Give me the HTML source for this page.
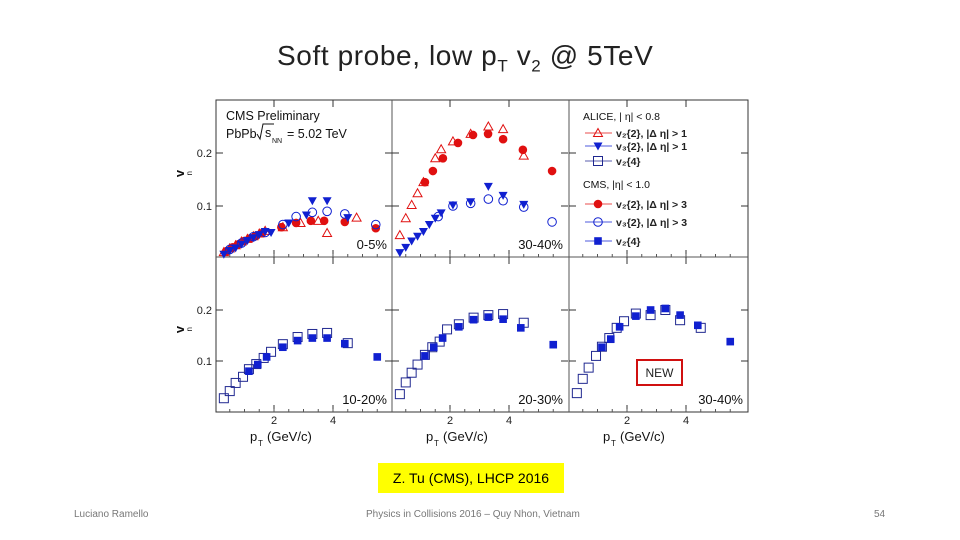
<!DOCTYPE html>
<html><head><meta charset="utf-8"><style>
body{margin:0;width:960px;height:540px;background:#fff;position:relative;overflow:hidden;font-family:"Liberation Sans",sans-serif}
.t{position:absolute;white-space:nowrap}
</style></head><body>
<div class="t" style="left:277px;top:40px;font-size:28px;letter-spacing:0.6px;color:#222">Soft probe, low p<sub style="font-size:17px">T</sub> v<sub style="font-size:17px">2</sub> @ 5TeV</div>
<svg id="chart" width="960" height="540" style="position:absolute;left:0;top:0" font-family="Liberation Sans, sans-serif"></svg>
<div class="t" style="left:378px;top:463px;width:186px;height:30px;background:#ffff00;font-size:14px;line-height:30px;text-align:center;color:#000">Z. Tu (CMS), LHCP 2016</div>
<div class="t" style="left:74px;top:509px;font-size:10px;color:#777">Luciano Ramello</div>
<div class="t" style="left:366px;top:509px;font-size:10px;color:#777">Physics in Collisions 2016 – Quy Nhon, Vietnam</div>
<div class="t" style="left:874px;top:509px;font-size:10px;color:#777">54</div>
<script>
// data arrays [pT, v]
const p1_aliceV2=[[0.3,0.013],[0.5,0.02],[0.7,0.026],[0.9,0.033],[1.1,0.038],[1.3,0.043],[1.5,0.048],[1.7,0.053],[2.3,0.060],[2.9,0.068],[3.5,0.072],[3.8,0.049],[4.8,0.078]];
const p1_aliceV3=[[0.3,0.009],[0.5,0.016],[0.7,0.021],[0.9,0.028],[1.1,0.035],[1.3,0.040],[1.5,0.046],[1.7,0.052],[1.9,0.050],[2.5,0.068],[3.1,0.083],[3.3,0.110],[3.8,0.110],[4.5,0.078]];
const p1_cmsV2=[[0.4,0.015],[0.6,0.022],[0.8,0.028],[1.0,0.034],[1.2,0.039],[1.4,0.044],[1.6,0.049],[2.25,0.060],[2.75,0.068],[3.25,0.072],[3.7,0.072],[4.4,0.070],[5.45,0.058]];
const p1_cmsV3=[[0.5,0.018],[0.9,0.03],[1.3,0.042],[1.7,0.05],[2.3,0.065],[2.75,0.08],[3.3,0.088],[3.8,0.09],[4.4,0.085],[5.45,0.065]];
const p2_aliceV2=[[0.3,0.045],[0.5,0.077],[0.7,0.102],[0.9,0.124],[1.1,0.145],[1.5,0.19],[1.7,0.207],[2.1,0.222],[2.7,0.236],[3.3,0.25],[3.8,0.245],[4.5,0.195]];
const p2_aliceV3=[[0.3,0.012],[0.5,0.022],[0.7,0.034],[0.9,0.043],[1.1,0.052],[1.3,0.065],[1.5,0.077],[1.7,0.087],[2.1,0.102],[2.7,0.108],[3.3,0.137],[3.8,0.12],[4.5,0.103]];
const p2_cmsV2=[[1.15,0.145],[1.42,0.166],[1.76,0.19],[2.27,0.219],[2.78,0.234],[3.29,0.236],[3.8,0.226],[4.47,0.206],[5.46,0.166]];
const p2_cmsV3=[[1.6,0.08],[2.1,0.1],[2.7,0.105],[3.3,0.113],[3.8,0.11],[4.5,0.098],[5.46,0.07]];
const p4_aliceV24=[[0.3,0.027],[0.5,0.041],[0.7,0.057],[0.95,0.069],[1.15,0.084],[1.4,0.094],[1.65,0.106],[1.9,0.118],[2.3,0.133],[2.8,0.147],[3.3,0.153],[3.8,0.155],[4.5,0.135]];
const p4_cmsV24=[[1.15,0.08],[1.45,0.093],[1.75,0.108],[2.3,0.127],[2.8,0.14],[3.3,0.145],[3.8,0.145],[4.4,0.134],[5.5,0.108]];
const p5_aliceV24=[[0.3,0.035],[0.5,0.058],[0.7,0.077],[0.9,0.093],[1.15,0.112],[1.4,0.127],[1.65,0.138],[1.9,0.162],[2.3,0.172],[2.8,0.185],[3.3,0.19],[3.8,0.192],[4.5,0.175]];
const p5_cmsV24=[[1.15,0.11],[1.45,0.127],[1.75,0.145],[2.3,0.167],[2.8,0.181],[3.3,0.186],[3.8,0.182],[4.4,0.165],[5.5,0.132]];
const p6_aliceV24=[[0.3,0.037],[0.5,0.065],[0.7,0.087],[0.95,0.11],[1.15,0.128],[1.4,0.145],[1.65,0.165],[1.9,0.178],[2.3,0.193],[2.8,0.19],[3.3,0.2],[3.8,0.18],[4.5,0.165]];
const p6_cmsV24=[[1.15,0.127],[1.45,0.143],[1.75,0.167],[2.3,0.188],[2.8,0.2],[3.3,0.203],[3.8,0.19],[4.4,0.17],[5.5,0.138]];
const xTicks=[2,4];
const yTicks=[0.1,0.2];
const centLabels=["0-5%","30-40%","","10-20%","20-30%","30-40%"];

const svg=document.getElementById('chart');const NS='http://www.w3.org/2000/svg';
function el(t,a,txt){const e=document.createElementNS(NS,t);for(const k in a)e.setAttribute(k,a[k]);if(txt!=null)e.textContent=txt;svg.appendChild(e);return e;}
const X0=[215,391,568],PW=[177,177,180];
const rows=[{top:100,bot:257,y1:206,pxPer:530},{top:257,bot:412,y1:361,pxPer:510}];
function xs(c,v){return X0[c]+v*29.5;}
function ys(r,v){return rows[r].y1-(v-0.1)*rows[r].pxPer;}
let f=el('rect',{x:216,y:100,width:532,height:312,fill:'none',stroke:'#333','stroke-width':1});

[392,569].forEach(x=>{const l=el('line',{x1:x,y1:100,x2:x,y2:412,stroke:'#555'});});
el('line',{x1:216,y1:257,x2:748,y2:257,stroke:'#555'});
for(let r=0;r<2;r++)for(let c=0;c<3;c++){
  xTicks.forEach(t=>{const x=xs(c,t);el('line',{x1:x,y1:rows[r].bot,x2:x,y2:rows[r].bot-7,stroke:'#333'});el('line',{x1:x,y1:rows[r].top,x2:x,y2:rows[r].top+7,stroke:'#333'});});
  for(let m=0.5;m<6;m+=0.5){const x=xs(c,m);el('line',{x1:x,y1:rows[r].bot,x2:x,y2:rows[r].bot-3,stroke:'#555'});}
  yTicks.forEach(t=>{const y=ys(r,t);el('line',{x1:X0[c]+1,y1:y,x2:X0[c]+8,y2:y,stroke:'#333'});el('line',{x1:X0[c]+PW[c],y1:y,x2:X0[c]+PW[c]-7,y2:y,stroke:'#333'});});
  const lab=centLabels[r*3+c];
  if(lab){const e=el('text',{x:X0[c]+PW[c]-5,y:rows[r].bot-8,'font-size':13,'text-anchor':'end',fill:'#111'},lab);}
}
for(let r=0;r<2;r++){yTicks.forEach(t=>{const e=el('text',{x:212,y:ys(r,t)+4,'font-size':11,'text-anchor':'end',fill:'#222'},t.toFixed(1));});
 const yt=el('text',{x:184,y:(rows[r].top+rows[r].bot)/2-5,'font-size':13,'font-weight':'bold',fill:'#111',transform:`rotate(-90 184 ${(rows[r].top+rows[r].bot)/2-5})`,'text-anchor':'middle'},'v');
 el('text',{x:192,y:(rows[r].top+rows[r].bot)/2-3,'font-size':8,fill:'#111',transform:`rotate(-90 192 ${(rows[r].top+rows[r].bot)/2-3})`},'n');}
for(let c=0;c<3;c++){xTicks.forEach(t=>{const e=el('text',{x:xs(c,t),y:424,'font-size':11,'text-anchor':'middle',fill:'#222'},t);});
 const xt=el('text',{x:X0[c]+35,y:441,'font-size':13,fill:'#111'},'p');
 el('text',{x:X0[c]+43,y:446,'font-size':8,fill:'#111'},'T');el('text',{x:X0[c]+52,y:441,'font-size':13,fill:'#111'},'(GeV/c)');}
function marker(type,x,y,col){
  let e;
  if(type==='tri'){e=el('polygon',{points:`${x},${y-4.5} ${x-4.5},${y+3.5} ${x+4.5},${y+3.5}`,fill:'none',stroke:col});}
  else if(type==='dtri'){e=el('polygon',{points:`${x-4.5},${y-3.5} ${x+4.5},${y-3.5} ${x},${y+4.5}`,fill:col});}
  else if(type==='dot'){e=el('circle',{cx:x,cy:y,r:4.3,fill:col});}
  else if(type==='ocirc'){e=el('circle',{cx:x,cy:y,r:4.3,fill:'none',stroke:col});}
  else if(type==='osq'){e=el('rect',{x:x-4.5,y:y-4.5,width:9,height:9,fill:'none',stroke:col});}
  else {e=el('rect',{x:x-3.8,y:y-3.8,width:7.6,height:7.6,fill:col});}
  return e;
}
function series(data,r,c,type,col,name){data.forEach(d=>{const e=marker(type,xs(c,d[0]),ys(r,d[1]),col);});}
const RED='#e01010',BLUE='#1020d0',NAVY='#202890';
series(p1_aliceV2,0,0,'tri',RED,'alice-v2-point');series(p1_cmsV2,0,0,'dot',RED,'cms-v2-point');
series(p1_aliceV3,0,0,'dtri',BLUE,'alice-v3-point');series(p1_cmsV3,0,0,'ocirc',BLUE,'cms-v3-point');
series(p2_aliceV2,0,1,'tri',RED,'alice-v2-point');series(p2_cmsV2,0,1,'dot',RED,'cms-v2-point');
series(p2_aliceV3,0,1,'dtri',BLUE,'alice-v3-point');series(p2_cmsV3,0,1,'ocirc',BLUE,'cms-v3-point');
series(p4_aliceV24,1,0,'osq',NAVY,'alice-v24-point');series(p4_cmsV24,1,0,'sq',BLUE,'cms-v24-point');
series(p5_aliceV24,1,1,'osq',NAVY,'alice-v24-point');series(p5_cmsV24,1,1,'sq',BLUE,'cms-v24-point');
series(p6_aliceV24,1,2,'osq',NAVY,'alice-v24-point');series(p6_cmsV24,1,2,'sq',BLUE,'cms-v24-point');
// header text
el('text',{x:226,y:120,'font-size':12.5,fill:'#111'},'CMS Preliminary');
el('text',{x:226,y:138,'font-size':12.5,fill:'#111'},'PbPb');
el('path',{d:'M257,134 L260,139 L263,124 L274,124',fill:'none',stroke:'#111'});
el('text',{x:265,y:137,'font-size':12.5,fill:'#111'},'s');
el('text',{x:272,y:143,'font-size':7,fill:'#111'},'NN');
el('text',{x:287,y:138,'font-size':12.5,fill:'#111'},'= 5.02 TeV');
// legend
const leg=[['ALICE, | η| < 0.8',null],['v₂{2}, |Δ η| > 1','tri',RED],['v₃{2}, |Δ η| > 1','dtri',BLUE],['v₂{4}','osq',NAVY],['CMS, |η| < 1.0',null],['v₂{2}, |Δ η| > 3','dot',RED],['v₃{2}, |Δ η| > 3','ocirc',BLUE],['v₂{4}','sq',BLUE]];
const ly=[116,133,146,161,184,204,222,241];
leg.forEach((l,i)=>{
  if(!l[1]){const e=el('text',{x:583,y:ly[i]+4,'font-size':10.5,fill:'#111'},l[0]);return;}
  el('line',{x1:585,y1:ly[i],x2:612,y2:ly[i],stroke:l[2],'stroke-width':0.8});
  marker(l[1],598,ly[i],l[2]);
  const e=el('text',{x:616,y:ly[i]+4,'font-size':10.5,'font-weight':'bold',fill:'#222'},l[0]);
});
const nb=el('rect',{x:637,y:360,width:45,height:25,fill:'#fff',stroke:'#d01010','stroke-width':2});
el('text',{x:659.5,y:377,'font-size':12,'text-anchor':'middle',fill:'#222'},'NEW');
</script>
</body></html>
